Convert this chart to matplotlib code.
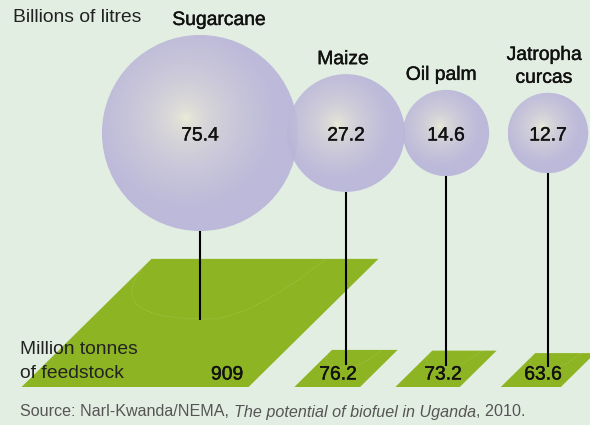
import numpy as np
import matplotlib
matplotlib.use("Agg")
from matplotlib import pyplot as plt
from matplotlib.patches import Circle, Polygon, PathPatch
from matplotlib.path import Path
from matplotlib.colors import to_rgb
import matplotlib.patheffects as pe

crops = ["Sugarcane", "Maize", "Oil palm", "Jatropha\ncurcas"]
biofuel = [75.4, 27.2, 14.6, 12.7]          # billions of litres
feedstock = [909, 76.2, 73.2, 63.6]         # million tonnes

# layout in pixels
col_x = [200, 346, 446, 548]
bubble_y = 133
ground_y = 387
name_dx = [19, -3, -5, -4]
feed_dx = [27, -8, -3, -5]
r_per_sqrt = 11.29
w_per_sqrt, h_per_sqrt, shear_per_sqrt = 7.53, 4.25, 4.31

bg = "#e3eee3"
green = "#8db422"
lav = np.array(to_rgb("#b8b3d9"))
glow = np.array(to_rgb("#f2f1d6"))

plt.rcParams["font.family"] = ["Liberation Sans", "DejaVu Sans"]
fs = 13.9
heavy = [pe.withStroke(linewidth=0.3, foreground="#111")]

fig = plt.figure(figsize=(5.9, 4.25), dpi=100, facecolor=bg)
ax = fig.add_axes([0, 0, 1, 1])
ax.set_facecolor(bg)
ax.axis("off")

# feedstock parallelograms
centers = []
for x, f, dx in zip(col_x, feedstock, feed_dx):
    s = np.sqrt(f)
    w, h, sh = w_per_sqrt * s, h_per_sqrt * s, shear_per_sqrt * s
    x0 = x - w / 2 - sh / 2
    pts = [(x0, ground_y), (x0 + w, ground_y), (x0 + w + sh, ground_y - h), (x0 + sh, ground_y - h)]
    ax.add_patch(Polygon(pts, closed=True, fc=green, ec="none", zorder=1))
    # faint shadow arc on the ground
    uv = [(0, 0.94), (0.05, 0.53), (0.52, 0.53), (0.70, 0.53), (0.77, 1.0)]
    xy = [(x0 + u * w + v * sh, ground_y - v * h) for u, v in uv]
    arc = Path(xy, [Path.MOVETO, Path.CURVE3, Path.CURVE3, Path.CURVE3, Path.CURVE3])
    ax.add_patch(PathPatch(arc, fc="none", ec="#bcd47c", lw=0.5, ls=(0, (2, 2)), alpha=0.6, zorder=2))
    centers.append(ground_y - h / 2 - 3)
    ax.text(x + dx, 375, f"{f:g}", ha="center", va="center", fontsize=fs, color="#111", zorder=5,
            path_effects=heavy)

# bubbles with a soft radial glow
for x, b, name, ndx, line_end in zip(col_x, biofuel, crops, name_dx, centers):
    r = r_per_sqrt * np.sqrt(b)
    ax.plot([x, x], [bubble_y + r, line_end], color="black", lw=1.5, zorder=3, solid_capstyle="butt")
    n = 200
    gx, gy = np.meshgrid(np.linspace(x - r, x + r, n), np.linspace(bubble_y - r, bubble_y + r, n))
    hx, hy = x - 0.15 * r, bubble_y - 0.15 * r
    d = np.hypot(gx - hx, gy - hy) / (0.95 * r)
    t = np.clip(d, 0, 1) ** 0.5
    img = glow[None, None, :] * (1 - t[..., None]) + lav[None, None, :] * t[..., None]
    circ = Circle((x, bubble_y), r, fc="none", ec="none", zorder=4)
    ax.add_patch(circ)
    im = ax.imshow(img, extent=(x - r, x + r, bubble_y + r, bubble_y - r), origin="upper",
                   alpha=0.9, zorder=4, aspect="auto", interpolation="bilinear")
    im.set_clip_path(circ)
    ax.text(x, bubble_y + 3, f"{b:g}", ha="center", va="center", fontsize=fs, color="#111", zorder=6,
            path_effects=heavy)
    ax.text(x + ndx, bubble_y - r - 10, name, ha="center", va="baseline", fontsize=fs,
            color="#111", linespacing=1.45, zorder=6, path_effects=heavy)

ax.text(13, 17, "Billions of litres", ha="left", va="center", fontsize=fs, color="#222")
ax.text(20, 350, "Million tonnes", ha="left", va="center", fontsize=fs, color="#222", zorder=6)
ax.text(20, 374, "of feedstock", ha="left", va="center", fontsize=fs, color="#222", zorder=6)

ax.set_xlim(0, 590)
ax.set_ylim(425, 0)

# source line with italic title
renderer = fig.canvas.get_renderer()
parts = [("Source: Narl-Kwanda/NEMA, ", "normal"),
         ("The potential of biofuel in Uganda", "italic"),
         (", 2010.", "normal")]
xpos = 20
for txt, style in parts:
    t = ax.text(xpos, 412, txt, ha="left", va="center", fontsize=11.6, style=style, color="#555")
    bb = t.get_window_extent(renderer=renderer)
    xpos += bb.width

fig.savefig("out.png", dpi=100, facecolor=bg)
